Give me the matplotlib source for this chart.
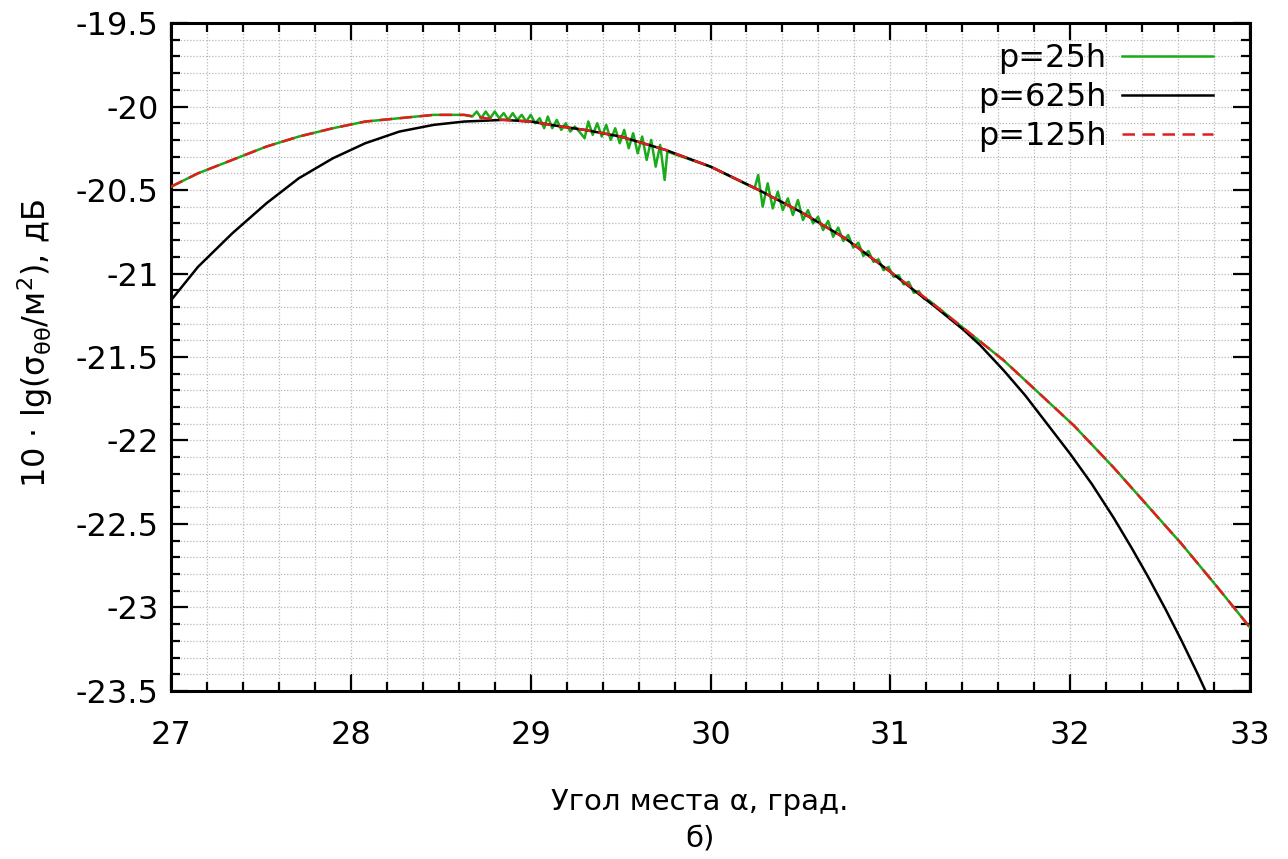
import matplotlib
matplotlib.use("Agg")
import matplotlib.pyplot as plt
from matplotlib.ticker import MultipleLocator, FormatStrFormatter

# p=625h, smooth curve
x_625 = [27.0, 27.15, 27.34, 27.53, 27.71, 27.9, 28.08, 28.27, 28.46, 28.63,
         28.85, 29.0, 29.17, 29.3, 29.5, 29.75, 30.0, 30.25, 30.5, 30.75,
         31.0, 31.25, 31.41, 31.5, 31.63, 31.75, 31.85, 32.0, 32.12, 32.24,
         32.34, 32.43, 32.53, 32.62, 32.71, 32.8]
y_625 = [-21.16, -20.96, -20.76, -20.58, -20.43, -20.31, -20.22, -20.15, -20.11, -20.09,
         -20.08, -20.09, -20.12, -20.14, -20.18, -20.26, -20.36, -20.49, -20.63, -20.79,
         -20.99, -21.20, -21.34, -21.43, -21.58, -21.73, -21.87, -22.08, -22.26, -22.46,
         -22.64, -22.81, -23.01, -23.20, -23.40, -23.61]

# p=125h
x_125 = [27.0, 27.15, 27.34, 27.53, 27.71, 27.9, 28.08, 28.27, 28.46, 28.63,
         28.75, 28.85, 29.0, 29.17, 29.3, 29.5, 29.75, 30.0, 30.25, 30.5,
         30.75, 31.0, 31.2, 31.41, 31.63, 31.85, 32.02, 32.24, 32.43, 32.62,
         32.82, 33.0]
y_125 = [-20.48, -20.40, -20.32, -20.24, -20.18, -20.13, -20.09, -20.07, -20.05, -20.05,
         -20.07, -20.08, -20.09, -20.12, -20.14, -20.18, -20.26, -20.36, -20.49, -20.63,
         -20.79, -20.99, -21.15, -21.33, -21.52, -21.74, -21.91, -22.16, -22.39, -22.62,
         -22.88, -23.12]

# p=25h, same as p=125h except the oscillating parts
x_25 = [27.0, 27.15, 27.34, 27.53, 27.71, 27.9, 28.08, 28.27, 28.46, 28.63,
        28.675, 28.70, 28.725, 28.75, 28.775, 28.80, 28.825, 28.85, 28.875, 28.90,
        28.925, 28.95, 28.975, 29.00, 29.025, 29.05, 29.075, 29.095, 29.12, 29.145,
        29.17, 29.195, 29.22, 29.245, 29.27,
        29.30, 29.32, 29.345, 29.37, 29.395, 29.42, 29.445, 29.47, 29.495, 29.52,
        29.545, 29.57, 29.595, 29.62, 29.645, 29.67, 29.695, 29.72, 29.745, 29.76,
        30.0,
        30.245, 30.265, 30.29, 30.318, 30.346, 30.374, 30.402, 30.43, 30.458, 30.486,
        30.514, 30.542, 30.57, 30.598, 30.626, 30.654, 30.682, 30.71, 30.738, 30.766,
        30.794, 30.822, 30.85, 30.878, 30.906, 30.934, 30.962, 30.99, 31.018, 31.046,
        31.074, 31.102, 31.13, 31.158, 31.186, 31.214,
        31.41, 31.63, 31.85, 32.02, 32.24, 32.43, 32.62, 32.82, 33.0]
y_25 = [-20.48, -20.40, -20.32, -20.24, -20.18, -20.13, -20.09, -20.07, -20.05, -20.05,
        -20.06, -20.03, -20.07, -20.03, -20.07, -20.03, -20.07, -20.04, -20.08, -20.04,
        -20.08, -20.05, -20.09, -20.05, -20.10, -20.07, -20.13, -20.06, -20.13, -20.08,
        -20.14, -20.10, -20.15, -20.12, -20.15,
        -20.19, -20.09, -20.17, -20.10, -20.18, -20.11, -20.20, -20.13, -20.22, -20.14,
        -20.25, -20.16, -20.28, -20.18, -20.32, -20.20, -20.36, -20.23, -20.44, -20.27,
        -20.36,
        -20.49, -20.41, -20.60, -20.46, -20.61, -20.51, -20.62, -20.55, -20.65, -20.56,
        -20.68, -20.62, -20.70, -20.66, -20.74, -20.685, -20.78, -20.725, -20.805, -20.77,
        -20.845, -20.815, -20.895, -20.865, -20.93, -20.915, -20.98, -20.96, -21.02, -21.01,
        -21.065, -21.05, -21.115, -21.105, -21.15, -21.16,
        -21.33, -21.52, -21.74, -21.91, -22.16, -22.39, -22.62, -22.88, -23.12]

green = '#1aaa1a'
red = '#e01e1e'

fig = plt.figure(figsize=(12.88, 8.59), dpi=100)
ax = fig.add_axes([0.1328, 0.1956, 0.8377, 0.7776])

ax.plot(x_25, y_25, color=green, lw=1.8, label='p=25h', zorder=3)
ax.plot(x_625, y_625, color='black', lw=1.8, label='p=625h', zorder=4)
ax.plot(x_125, y_125, color=red, lw=1.8, dashes=(5, 3), label='p=125h', zorder=5)

ax.set_xlim(27, 33)
ax.set_ylim(-23.5, -19.5)
ax.xaxis.set_major_locator(MultipleLocator(1))
ax.xaxis.set_minor_locator(MultipleLocator(0.2))
ax.yaxis.set_major_locator(MultipleLocator(0.5))
ax.yaxis.set_minor_locator(MultipleLocator(0.1))
ax.yaxis.set_major_formatter(FormatStrFormatter('%g'))

ax.grid(which='both', color='#b8b8b8', linestyle=(0, (1, 1.5)), linewidth=0.9)
ax.set_axisbelow(True)
for s in ax.spines.values():
    s.set_linewidth(2.2)

ax.tick_params(which='both', direction='in', top=True, right=True, width=1.6)
ax.tick_params(which='major', length=12, labelsize=23)
ax.tick_params(axis='x', which='major', pad=21)
ax.tick_params(axis='y', which='major', pad=9)
ax.tick_params(which='minor', length=6.5)

ax.set_xlabel('Угол места α, град.\nб)', fontsize=21, linespacing=1.4)
ax.xaxis.set_label_coords(0.49, -0.145, transform=ax.transAxes)
ax.set_ylabel(r'10 · lg(σ$_{\mathregular{θθ}}$/м$^{\mathregular{2}}$), дБ', fontsize=23)
ax.yaxis.set_label_coords(-0.108, 0.52)

ax.legend(loc='upper right', bbox_to_anchor=(0.978, 0.9895), frameon=False,
          markerfirst=False, fontsize=23, handlelength=2.85, labelspacing=0.25,
          borderaxespad=0, handletextpad=0.5)

plt.savefig('out.png', dpi=100)
